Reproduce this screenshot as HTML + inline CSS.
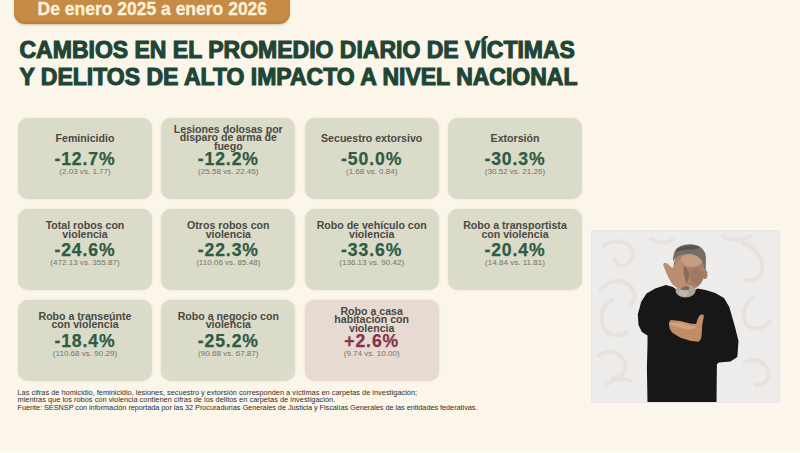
<!DOCTYPE html>
<html lang="es">
<head>
<meta charset="utf-8">
<title>Cambios en el promedio diario de víctimas</title>
<style>
*{margin:0;padding:0;box-sizing:border-box}
html,body{width:800px;height:453px;overflow:hidden}
body{position:relative;background:#fbf5ea;font-family:"Liberation Sans",Arial,sans-serif}
#bgpat{position:absolute;left:0;top:0;width:800px;height:453px}
.badge{position:absolute;left:14px;top:-10px;width:276px;height:34.2px;background:#c58b47;border-radius:11px;box-shadow:inset 0 -2px 2px rgba(130,85,30,.22),0 1px 2px rgba(120,80,30,.3)}
.badge span{position:absolute;left:23.5px;top:9px;font-weight:700;font-size:17.5px;line-height:20px;color:#fdf1d8;white-space:nowrap;-webkit-text-stroke:.3px #fdf1d8}
h1{position:absolute;left:19.5px;top:37.3px;font-size:23px;line-height:26.4px;font-weight:700;color:#1e4535;letter-spacing:0;white-space:nowrap;-webkit-text-stroke:1.05px #1e4535}
.card{position:absolute;width:134px;height:81px;background:#dbdbc9;border-radius:10px;box-shadow:0 0 2px rgba(150,140,110,.25);text-align:center}
.card.red{background:#e6dad2}
.lab{position:absolute;left:0;right:0;top:19.9px;transform:translateY(-50%);font-size:10.6px;line-height:8.5px;font-weight:700;color:#4a4943}
.pct{position:absolute;left:0;right:0;top:31px;font-size:17.6px;line-height:20px;font-weight:700;color:#2e5c44;letter-spacing:.9px;-webkit-text-stroke:.25px currentColor}
.red .pct{color:#883347}
.sub{position:absolute;left:0;right:0;top:50px;font-size:8.05px;line-height:8px;color:#74736b}
.foot{position:absolute;left:17.5px;top:388.6px;font-size:7.35px;line-height:7.55px;color:#2f2f2b;white-space:nowrap}
.inset{position:absolute;left:591.5px;top:231px;width:187px;height:171px;background:#ebe8e5;overflow:hidden;box-shadow:0 0 0 .6px #dcd8d5,0 0 0 2.5px #fcf7f3}
.bstrip{position:absolute;left:0;top:450.8px;width:800px;height:3px;background:#fefbf7}
</style>
</head>
<body>

<div class="badge"><span>De enero 2025 a enero 2026</span></div>

<h1>CAMBIOS EN EL PROMEDIO DIARIO DE VÍCTIMAS<br>Y DELITOS DE ALTO IMPACTO A NIVEL NACIONAL</h1>

<div class="card" style="left:18px;top:118px"><div class="lab">Feminicidio</div><div class="pct">-12.7%</div><div class="sub">(2.03 vs. 1.77)</div></div>
<div class="card" style="left:161.3px;top:118px"><div class="lab">Lesiones dolosas por<br>disparo de arma de<br>fuego</div><div class="pct">-12.2%</div><div class="sub">(25.58 vs. 22.45)</div></div>
<div class="card" style="left:304.7px;top:118px"><div class="lab">Secuestro extorsivo</div><div class="pct">-50.0%</div><div class="sub">(1.68 vs. 0.84)</div></div>
<div class="card" style="left:448px;top:118px"><div class="lab">Extorsión</div><div class="pct">-30.3%</div><div class="sub">(30.52 vs. 21.26)</div></div>

<div class="card" style="left:18px;top:209.2px"><div class="lab">Total robos con<br>violencia</div><div class="pct">-24.6%</div><div class="sub">(472.13 vs. 355.87)</div></div>
<div class="card" style="left:161.3px;top:209.2px"><div class="lab">Otros robos con<br>violencia</div><div class="pct">-22.3%</div><div class="sub">(110.06 vs. 85.48)</div></div>
<div class="card" style="left:304.7px;top:209.2px"><div class="lab">Robo de vehículo con<br>violencia</div><div class="pct">-33.6%</div><div class="sub">(136.13 vs. 90.42)</div></div>
<div class="card" style="left:448px;top:209.2px"><div class="lab">Robo a transportista<br>con violencia</div><div class="pct">-20.4%</div><div class="sub">(14.84 vs. 11.81)</div></div>

<div class="card" style="left:18px;top:299.8px"><div class="lab">Robo a transeúnte<br>con violencia</div><div class="pct">-18.4%</div><div class="sub">(110.68 vs. 90.29)</div></div>
<div class="card" style="left:161.3px;top:299.8px"><div class="lab">Robo a negocio con<br>violencia</div><div class="pct">-25.2%</div><div class="sub">(90.68 vs. 67.87)</div></div>
<div class="card red" style="left:304.7px;top:299.8px"><div class="lab">Robo a casa<br>habitación con<br>violencia</div><div class="pct">+2.6%</div><div class="sub">(9.74 vs. 10.00)</div></div>

<div class="foot"><span style="letter-spacing:.02px">Las cifras de homicidio, feminicidio, lesiones, secuestro y extorsión corresponden a víctimas en carpetas de investigación;</span><br><span style="letter-spacing:.035px">mientras que los robos con violencia contienen cifras de los delitos en carpetas de investigación.</span><br><span style="letter-spacing:-.053px">Fuente: SESNSP con información reportada por las 32 Procuradurías Generales de Justicia y Fiscalías Generales de las entidades federativas.</span></div>

<div class="inset">
<svg width="187" height="171" viewBox="591.5 231 187 171">
<rect x="591.5" y="231" width="187" height="171" fill="#eeecea"/>
<g fill="none" stroke="#e5e2e0" stroke-width="4" stroke-linecap="round">
<path d="M603 246 q14 -10 26 0 q8 10 -2 18 q-10 4 -13 -5"/>
<path d="M600 290 q14 -16 30 -4 q8 10 0 20"/>
<path d="M612 300 q-16 10 -9 28 q9 12 24 4"/>
<path d="M598 355 q18 -9 26 7 q4 14 -11 16"/>
<path d="M606 385 q10 -10 24 -4"/>
<path d="M742 243 q18 6 20 24 q-2 16 -18 13"/>
<path d="M752 298 q-14 11 -6 27 q12 9 24 -4"/>
<path d="M744 362 q16 -7 24 9 q2 14 -13 14"/>
<path d="M722 236 q14 8 28 0"/>
<path d="M650 238 q10 8 22 2"/>
</g>
<path fill="#181717" d="M647 402 L646.4 368 L647 345 L647 335.5 L641.4 332 L638 325 L637.3 314 L638.8 309 L640.6 302 L646 293.5 L654.7 288.5 L665.3 285 L672.4 287 L685 296 L697 288.5 L706 290.3 L714.7 293 L723.5 298 L728.8 307 L734.5 327 L738 341 L736.8 357 L730 361.4 L718.6 362.5 L716.4 364 L716 402 Z"/>
<ellipse cx="689" cy="268" rx="16" ry="22" fill="#a98369"/>
<ellipse cx="691" cy="260" rx="11" ry="7" fill="#c69d80"/>
<ellipse cx="696" cy="276" rx="6" ry="9" fill="#9f7961"/>
<ellipse cx="704.5" cy="274.5" rx="2.4" ry="4.6" fill="#a37d66"/>
<path fill="#746e68" d="M672.6 262 Q672 249 680 246 Q688 243 697 245.5 Q705 249 705.5 258 L705 271 Q703 267 702 262 Q699 255.5 690 254 Q681 254 676 257 Q673.5 259.5 672.6 262 Z"/>
<path fill="#57524e" d="M676 249 Q688 242.5 700 247 Q696 250 688 249.5 Q681 249.5 676 252 Z"/>
<ellipse cx="685" cy="291" rx="10" ry="6.5" fill="#aaa49c"/>
<ellipse cx="683" cy="293" rx="5" ry="3.5" fill="#bdb7af"/>
<ellipse cx="684.5" cy="288" rx="4.5" ry="2.2" fill="#7f6a5d"/>
<path fill="#b98e72" d="M662.6 264.5 Q663 262 666 263 L672 268 Q675 262 679 259.8 Q686 263 689 273 Q689 280 687.8 284 Q682 289 675.9 287.6 Q671 284 670.6 282.3 Q667 276 665.3 271.7 Z"/>
<path fill="#8d6a55" d="M683 266 Q688 268 689 274 Q688 281 686 284 Q684 278 683 272 Z"/>
<path fill="#c08d68" d="M668.4 322.9 Q669 320 670.9 319.9 L679.9 320.9 L689.8 323.4 L695.7 323.9 Q696.5 320 697.7 317.9 Q699.5 314 702.2 314.4 Q704 315 703.2 317.5 L701.7 325 L701.2 334 L700.7 337.8 Q699.5 341.5 697.7 341.7 L689.8 340.7 L679.9 337.8 L671.9 332.8 Q668.5 329 668.4 322.9 Z"/>
<path fill="#d2a27b" d="M670 323 Q676 321 688 325 Q694 327 697 326 Q693 331 684 329 Q675 327 670 325 Z"/>
</svg>
</div>
<div class="bstrip"></div>
</body>
</html>
